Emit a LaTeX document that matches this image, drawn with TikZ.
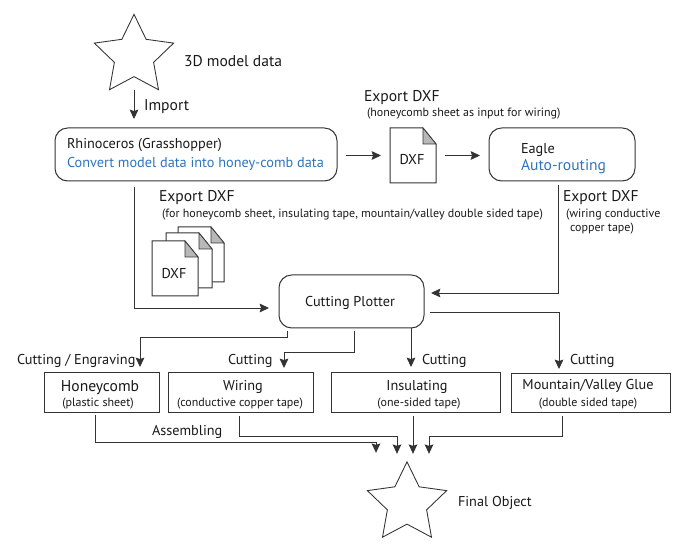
\documentclass[tikz,border=0pt]{standalone}
\usepackage{fontspec}
\setmainfont{PT Sans}
\usetikzlibrary{shapes.geometric,arrows.meta,calc}
\definecolor{ink}{HTML}{333333}
\definecolor{bluetxt}{HTML}{2E75BE}
\definecolor{foldgray}{HTML}{B8B8B8}
\def\px{0.75pt}
\tikzset{
  x=0.75pt,y=-0.75pt,
  every node/.style={text=black!90,inner sep=0pt,outer sep=0pt},
  arr/.style={draw=ink,line width=0.7pt,-{Stealth[length=7pt,width=6.5pt,inset=1pt]}},
  bigtxt/.style={font=\fontsize{10.7}{13}\selectfont,yshift=-1pt},
  largetxt/.style={font=\fontsize{11.7}{14}\selectfont,yshift=-1pt},
  smalltxt/.style={font=\fontsize{9}{11}\selectfont,yshift=-1pt},
  lab/.style={bigtxt,anchor=mid west},
  lablarge/.style={largetxt,anchor=mid west},
  sublab/.style={smalltxt,anchor=mid west},
  roundbox/.style={draw=ink,line width=0.75pt,rounded corners=9.5pt,fill=white},
  squarebox/.style={draw=ink,line width=0.75pt,fill=white},
  starshape/.style={draw=ink,line width=0.65pt,star,star points=5,star point ratio=2.02,minimum size=62.5pt,fill=white},
  docbox/.style={minimum width=34.5pt,minimum height=41.25pt},
}
\newcommand{\docshape}[3]{%
  \path[draw=ink,line width=0.75pt,fill=white] (#2-23,#3-27.5) -- (#2+10,#3-27.5) -- (#2+23,#3-11.5) -- (#2+23,#3+27.5) -- (#2-23,#3+27.5) -- cycle;
  \path[draw=ink,line width=0.5pt,fill=foldgray] (#2+10,#3-27.5) -- (#2+23,#3-11.5) -- (#2+10,#3-11.5) -- cycle;
  \node[docbox] (#1) at (#2,#3) {};
}
\begin{document}
\begin{tikzpicture}
\useasboundingbox (0,0) rectangle (694,548);
% stars
\node[starshape] (star1) at (134,56) {};
\node[starshape] (star2) at (407,503.5) {};
\node[lablarge] (t3d) at (184,62) {3D model data};
\node[lab] (tfinal) at (458,502) {Final Object};
% main boxes
\node[roundbox,minimum width=282*\px,minimum height=53*\px,anchor=north west] (rhino) at (55,128) {};
\node[lab] (trh1) at (67,144) {Rhinoceros (Grasshopper)};
\node[lab,text=bluetxt] (trh2) at (67,163) {Convert model data into honey-comb data};
\node[roundbox,minimum width=146*\px,minimum height=53*\px,anchor=north west] (eagle) at (489,128) {};
\node[lab] (teg1) at (521,149) {Eagle};
\node[lablarge,text=bluetxt] (teg2) at (521,166) {Auto-routing};
\node[roundbox,minimum width=145*\px,minimum height=53*\px,anchor=north west] (plotter) at (279,275) {};
\node[bigtxt] (tplot) at (350,302) {Cutting Plotter};
% documents
\docshape{dxfa}{413}{155.5}
\node[bigtxt] (tdxfa) at (412,158) {DXF};
\docshape{dxfd}{201}{254.5}
\docshape{dxfc}{189}{260.5}
\docshape{dxfb}{175}{268.5}
\node[bigtxt] (tdxfb) at (174,272) {DXF};
% export labels
\node[lablarge] (te1) at (364,97) {Export DXF};
\node[sublab] (te1s) at (367,112) {(honeycomb sheet as input for wiring)};
\node[lablarge] (te2) at (159,197) {Export DXF};
\node[sublab] (te2s) at (162,213) {(for honeycomb sheet, insulating tape, mountain/valley double sided tape)};
\node[lablarge] (te3) at (563,197) {Export DXF};
\node[sublab] (te3s) at (566,213) {(wiring conductive};
\node[sublab] (te3t) at (570,227) {copper tape)};
\node[lablarge] (timp) at (144,106) {Import};
% output boxes
\node[squarebox,minimum width=115*\px,minimum height=40*\px,anchor=north west] (honey) at (44,373) {};
\node[largetxt] (th1) at (100,386) {Honeycomb};
\node[smalltxt] (th2) at (98,402) {(plastic sheet)};
\node[squarebox,minimum width=145*\px,minimum height=40*\px,anchor=north west] (wiring) at (168,373) {};
\node[bigtxt] (tw1) at (243,386) {Wiring};
\node[smalltxt] (tw2) at (240,402) {(conductive copper tape)};
\node[squarebox,minimum width=169*\px,minimum height=40*\px,anchor=north west] (insul) at (331,373) {};
\node[bigtxt] (ti1) at (417,386) {Insulating};
\node[smalltxt] (ti2) at (419,402) {(one-sided tape)};
\node[squarebox,minimum width=159*\px,minimum height=39*\px,anchor=north west] (mount) at (511,374) {};
\node[bigtxt] (tm1) at (588,385) {Mountain/Valley Glue};
\node[smalltxt] (tm2) at (588,402) {(double sided tape)};
% cutting labels
\node[lab] (tc1) at (17,360) {Cutting / Engraving};
\node[lab] (tc2) at (228,360) {Cutting};
\node[lab] (tc3) at (422,360) {Cutting};
\node[lab] (tc4) at (570,360) {Cutting};
\node[lab] (tas) at (152,431) {Assembling};
% connectors
\draw[arr] ([shift={(0,13)}]star1.center |- star1.south) -- ([shift={(0,-9)}]star1.center |- rhino.north);
\draw[arr] ([shift={(9,1)}]rhino.east) -- ([shift={(-9,0)}]dxfa.west);
\draw[arr] ([shift={(9,0)}]dxfa.east) -- ([shift={(-9,1)}]eagle.west);
\draw[arr] ([shift={(-3.5,4)}]eagle.south) |- ([shift={(7,-8.5)}]plotter.east);
\draw[arr] ([shift={(79.5,6)}]rhino.south west) |- ([shift={(-10,33)}]plotter.north west);
\draw[arr] ([shift={(6,37)}]plotter.north east) -| ([shift={(48,-5)}]mount.north west);
\draw[arr] ([shift={(59.5,0)}]plotter.south) -- ([shift={(80,-6)}]insul.north west);
\draw[arr] ([shift={(75,3)}]plotter.south west) |- (284,352.5) -- ([shift={(116,-5)}]wiring.north west);
\draw[arr] ([shift={(8,3)}]plotter.south west) |- (140,337) -- ([shift={(96,-6)}]honey.north west);
\draw[arr] ([shift={(51,2)}]honey.south west) |- (376,442) -- ([shift={(-31,-9)}]star2.north);
\draw[arr] ([shift={(71,3)}]wiring.south west) |- (397,436) -- ([shift={(-10,-8)}]star2.north);
\draw[arr] ([shift={(82,3)}]insul.south west) -- ([shift={(6,-8)}]star2.north);
\draw[arr] ([shift={(51,3)}]mount.south west) |- (429,436) -- ([shift={(22,-8)}]star2.north);
\end{tikzpicture}
\end{document}
